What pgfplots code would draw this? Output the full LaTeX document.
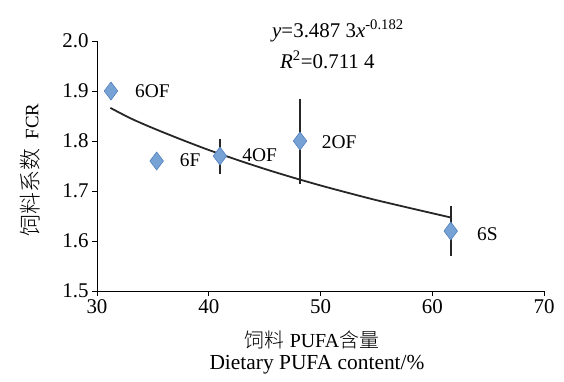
\documentclass[border=0pt]{standalone}
\usepackage{pgfplots}
\pgfplotsset{compat=1.18}
\usepackage{fontspec}
\setmainfont{Liberation Serif}
\newfontfamily\cjk{Noto Sans CJK SC Light}[Scale=1.0]
\definecolor{mk}{RGB}{118,162,214}
\definecolor{mkd}{RGB}{84,128,186}
\begin{document}
\begin{tikzpicture}
\useasboundingbox (0,0) rectangle (564bp,382bp);
\begin{axis}[
  at={(97bp,91bp)}, anchor=south west,
  scale only axis, width=447bp, height=250bp,
  xmin=30, xmax=70, ymin=1.5, ymax=2.0,
  xtick={30,40,50,60,70}, ytick={1.5,1.6,1.7,1.8,1.9,2.0},
  yticklabel style={/pgf/number format/.cd,fixed,fixed zerofill,precision=1},
  axis x line*=bottom, axis y line*=left,
  axis line style={line width=1pt, -},
  tick style={line width=1pt, black}, tick align=outside,
  major tick length=5bp,
  /pgf/number format/assume math mode=true,
  tick label style={font=\fontsize{21}{23}\selectfont},
  clip=false,
]
\addplot[black!85, line width=1.8pt, smooth] coordinates {
 (31.2,1.8662) (33,1.8454) (35,1.8258) (37.5,1.8033) (40,1.7820) (42.5,1.7626) (45,1.7442) (47.5,1.7271) (50,1.7111) (52.5,1.6961) (55,1.6817) (58,1.6659) (61.6,1.6473)};
\addplot[only marks, mark=diamond*, mark size=9bp, mark options={fill=mk, draw=mkd, line width=0.6pt},
  error bars/.cd, y dir=both, y explicit, error bar style={black!85, line width=2.2pt}, error mark=none]
  coordinates {
  (31.25,1.90) +- (0,0.005)
  (35.34,1.76) +- (0,0.012)
  (41.0,1.77) +- (0,0.035)
  (48.17,1.80) +- (0,0.085)
  (61.65,1.62) +- (0,0.05)
};
\begin{scope}[every node/.style={font=\fontsize{19.5}{21}\selectfont, anchor=west, inner sep=0pt}]
\node at (axis cs:33.4,1.90) {6OF};
\node at (axis cs:37.4,1.762) {6F};
\node at (axis cs:43.0,1.772) {4OF};
\node at (axis cs:50.1,1.798) {2OF};
\node at (axis cs:64.0,1.614) {6S};
\end{scope}
\end{axis}
\node[anchor=west, inner sep=0pt, font=\fontsize{21}{23}\selectfont] at (272bp,351bp) {\textit{y}=3.487 3\textit{x}\textsuperscript{-0.182}};
\node[anchor=west, inner sep=0pt, font=\fontsize{21}{23}\selectfont] at (280bp,322bp) {\textit{R}\textsuperscript{2}=0.711 4};
\node[font=\fontsize{20}{22}\selectfont, inner sep=0pt] at (312bp,42bp) {{\cjk 饲料}\ PUFA{\cjk 含量}};
\node[font=\fontsize{21.5}{23}\selectfont, inner sep=0pt] at (317bp,17bp) {Dietary PUFA content/\%};
\node[font=\fontsize{19}{21}\selectfont, inner sep=0pt, rotate=90] at (30bp,212bp) {{\cjk\fontsize{22}{24}\selectfont 饲料系数}\ \ FCR};
\end{tikzpicture}
\end{document}
